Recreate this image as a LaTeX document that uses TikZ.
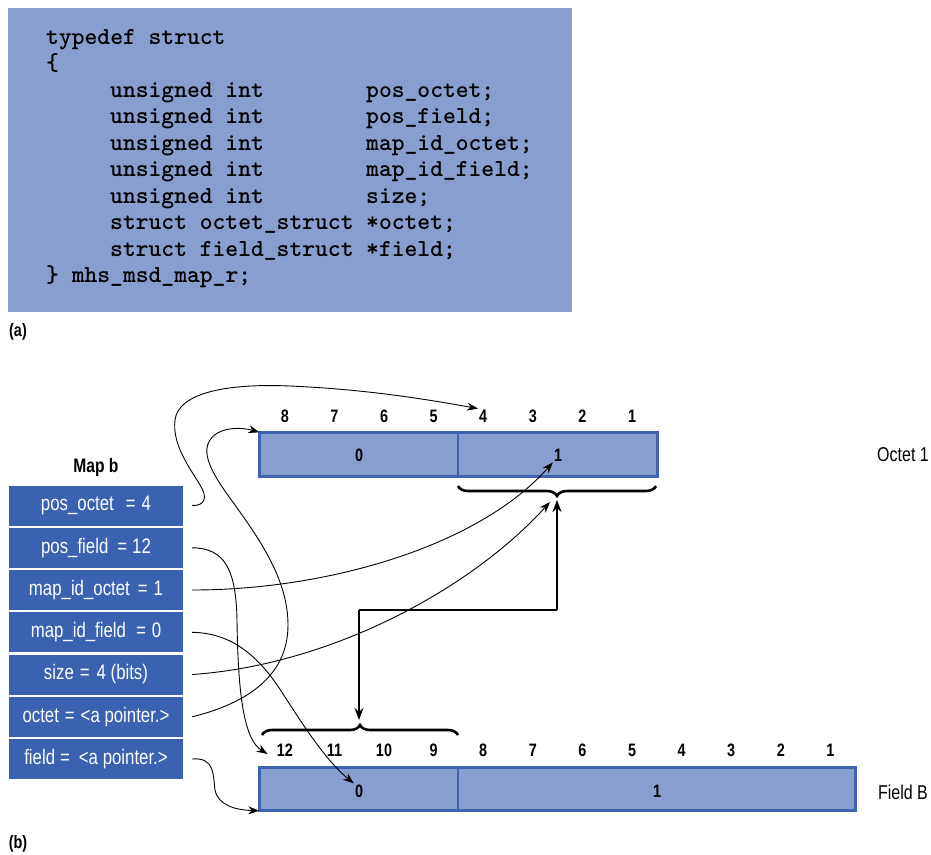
\documentclass[tikz,border=0pt]{standalone}
\usepackage{fontspec}
\setmainfont{Liberation Sans}
\newfontfamily\cond{Liberation Sans}[FakeStretch=0.8]
\usetikzlibrary{arrows.meta,decorations.pathreplacing,calc}
\definecolor{codebg}{RGB}{135,159,207}
\definecolor{mapblue}{RGB}{58,98,176}
\definecolor{barfill}{RGB}{135,159,207}
\definecolor{barline}{RGB}{62,99,178}
\begin{document}
\begin{tikzpicture}[x=1pt,y=-1pt,
  code/.style={anchor=base west, inner sep=0pt, font=\ttfamily\bfseries\fontsize{24.4}{26}\selectfont},
  mapbox/.style={rectangle, fill=mapblue, minimum width=174pt, minimum height=40pt, inner sep=0pt, text=white, font=\cond\fontsize{21}{24}\selectfont},
  bitnum/.style={inner sep=1pt, font=\cond\bfseries\fontsize{18}{21}\selectfont},
  lbl/.style={inner sep=1pt, font=\cond\fontsize{20}{23}\selectfont},
  panel/.style={inner sep=1pt, font=\cond\bfseries\fontsize{18}{21}\selectfont},
  barcell/.style={rectangle, draw=barline, fill=barfill, line width=1.4pt, inner sep=0pt},
  conn/.style={line width=0.9pt, -{Stealth[length=11pt,width=8pt]}},
  bracestyle/.style={decorate, decoration={brace, amplitude=10pt}, line width=2.6pt},
  thickarr/.style={line width=2.4pt, -{Stealth[length=12pt,width=9pt]}}
]
\useasboundingbox (0,0) rectangle (931,854);

% ---------- (a) code box ----------
\node[fill=codebg, minimum width=564pt, minimum height=304pt, inner sep=0pt] (codebox) at (290,160) {};
\node[code] (r0) at (46,44) {typedef struct};
\node[code] (r1) at (46,70.5) {\{};
\node[code] (r2a) at (110,97) {unsigned int};
\node[code] (r2b) at (366,97) {pos\_octet;};
\node[code] (r3a) at (110,123.5) {unsigned int};
\node[code] (r3b) at (366,123.5) {pos\_field;};
\node[code] (r4a) at (110,150) {unsigned int};
\node[code] (r4b) at (366,150) {map\_id\_octet;};
\node[code] (r5a) at (110,176.5) {unsigned int};
\node[code] (r5b) at (366,176.5) {map\_id\_field;};
\node[code] (r6a) at (110,203) {unsigned int};
\node[code] (r6b) at (366,203) {size;};
\node[code] (r7a) at (110,229.5) {struct octet\_struct};
\node[code] (r7b) at (366,229.5) {*octet;};
\node[code] (r8a) at (110,256) {struct field\_struct};
\node[code] (r8b) at (366,256) {*field;};
\node[code] (r9a) at (46,282.5) {\}};
\node[code] (r9b) at (71.6,282.5) {mhs\_msd\_map\_r;};
\node[panel] (pa) at (18,332) {(a)};

% ---------- (b) map boxes ----------
\node[inner sep=1pt, font=\cond\bfseries\fontsize{19.5}{22}\selectfont] (mapb) at (96,467) {Map b};
\node[mapbox] (m1) at (96,505.5) {pos\_octet\hspace{12pt}=\hspace{6pt}4};
\node[mapbox] (m2) at (96,547.8) {pos\_field\hspace{9pt}=\hspace{5pt}12};
\node[mapbox] (m3) at (96,590) {map\_id\_octet\hspace{8pt}=\hspace{6pt}1};
\node[mapbox] (m4) at (96,632.3) {map\_id\_field\hspace{10pt}=\hspace{6pt}0};
\node[mapbox] (m5) at (96,674.5) {size\hspace{6pt}=\hspace{7pt}4 (bits)};
\node[mapbox] (m6) at (96,716.8) {octet\hspace{6pt}=\hspace{6pt}<a pointer.>};
\node[mapbox] (m7) at (96,759) {field\hspace{5pt}=\hspace{9pt}<a pointer.>};

% ---------- Octet 1 ----------
\node[barcell, minimum width=198pt, minimum height=43pt] (octL) at (359,454.5) {};
\node[barcell, minimum width=199pt, minimum height=43pt] (octR) at (557.5,454.5) {};
\draw[barline, line width=2.2pt] (octL.north west) rectangle (octR.south east);
\node[bitnum] (o0) at (359,455) {0};
\node[bitnum] (o1) at (558,455) {1};
\foreach \k in {1,...,8} \node[bitnum] (ob\k) at ({260+(8.5-\k)*49.6},416) {\k};
\node[lbl] (octname) at (903,455) {Octet 1};

% ---------- Field B ----------
\node[barcell, minimum width=198pt, minimum height=42pt] (fldL) at (359,789) {};
\node[barcell, minimum width=397pt, minimum height=42pt] (fldR) at (656.5,789) {};
\draw[barline, line width=2.2pt] (fldL.north west) rectangle (fldR.south east);
\node[bitnum] (f0) at (359,791) {0};
\node[bitnum] (f1) at (657,791) {1};
\foreach \k in {1,...,12} \node[bitnum] (fb\k) at ({260+(12.5-\k)*49.6},750) {\k};
\node[lbl] (fldname) at (903,792) {Field B};

% ---------- braces ----------
\coordinate (obR) at (656,486);
\coordinate (obL) at (458,486);
\draw[bracestyle] (obR) -- (obL);
\coordinate (fbL) at (262,735);
\coordinate (fbR) at (458,735);
\draw[bracestyle] (fbL) -- (fbR);
\coordinate (obtip) at (557,500);
\coordinate (fbtip) at (359,720);
\coordinate (eL) at (359,610);
\coordinate (eR) at (557,610);
\draw[thickarr] (eR) -- (obtip);
\draw[line width=1.3pt] (eL) -- (eR);
\draw[thickarr] (eL) -- (fbtip);

% ---------- connectors ----------
\coordinate (sizetip) at (550,502);
\draw[conn] ($(m1.east)+(9,0)$) .. controls (205,506) and (208,497) .. (200,485)
   .. controls (190,468) and (172,445) .. (175,420)
   .. controls (178,395) and (220,383) .. (290,386)
   .. controls (360,389) and (420,398) .. (ob4.north west);
\draw[conn] ($(m2.east)+(9,0)$) .. controls (225,548) and (236,570) .. (237,620)
   .. controls (238,700) and (245,740) .. ($(fb12.west)+(-8,4)$);
\draw[conn] ($(m3.east)+(9,0)$) .. controls (330,590) and (480,545) .. (o1.south west);
\draw[conn] ($(m4.east)+(9,0)$) .. controls (235,633) and (262,660) .. (285,697)
   .. controls (300,720) and (325,760) .. (f0.north west);
\draw[conn] ($(m5.east)+(9,0)$) .. controls (330,665) and (470,590) .. (sizetip);
\draw[conn] ($(m6.east)+(9,0)$) .. controls (240,705) and (288,680) .. (288,625)
   .. controls (288,580) and (260,540) .. (235,505)
   .. controls (215,478) and (200,455) .. (210,440)
   .. controls (220,425) and (245,428) .. (octL.north west);
\draw[conn] ($(m7.east)+(9,0)$) .. controls (215,757) and (213,775) .. (215,790)
   .. controls (218,805) and (235,810) .. (fldL.south west);

\node[panel] (pb) at (18,844) {(b)};
\end{tikzpicture}
\end{document}
